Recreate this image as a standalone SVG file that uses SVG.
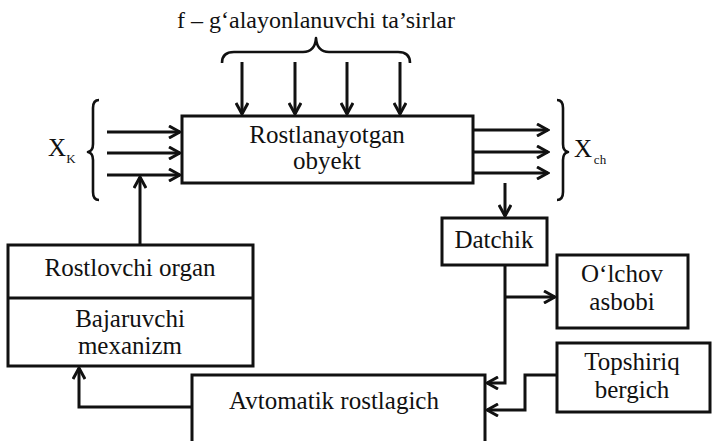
<svg xmlns="http://www.w3.org/2000/svg" width="712" height="441" viewBox="0 0 712 441">
  <style>
    .box { fill: #fff; stroke: #111; stroke-width: 3; }
    .ln { fill: none; stroke: #111; stroke-width: 3; }
    .arr { fill: none; stroke: #111; stroke-width: 3; marker-end: url(#head); }
    .brace { fill: none; stroke: #111; stroke-width: 2.6; stroke-linejoin: round; }
    .t { font-size: 25px; fill: #111; text-anchor: middle; }
    .title { font-size: 24px; }
    .sub { font-size: 13px; }
  </style>
  <defs>
    <marker id="head" viewBox="-12 -7 14 14" markerWidth="14" markerHeight="14" refX="0" refY="0" orient="auto" markerUnits="userSpaceOnUse">
      <path d="M-11,-6 L0,0 L-11,6" fill="none" stroke="#111" stroke-width="3" stroke-linejoin="miter"/>
    </marker>
  </defs>

  <g font-family="Liberation Serif, DejaVu Serif, serif">
  <!-- disturbance label and brace -->
  <g id="disturbances">
    <text class="t title" x="316" y="28">f – g‘alayonlanuvchi ta’sirlar</text>
    <path class="brace" d="M222,63 Q222,52 234,52 L303,52 Q315,52 316,38 Q317,52 329,52 L398,52 Q410,52 410,63"/>
  </g>

  <!-- controlled object -->
  <g id="object">
    <rect class="box" x="182" y="116" width="291" height="67"/>
    <text class="t" x="327" y="143">Rostlanayotgan</text>
    <text class="t" x="327" y="169">obyekt</text>
  </g>

  <!-- input group X_K -->
  <g id="input-xk">
    <text class="t" x="57" y="156">X</text>
    <text class="t sub" x="71" y="163">K</text>
    <path class="brace" d="M99,100 Q93,100 93,108 L93,144 Q93,151 88,152 Q93,153 93,160 L93,192 Q93,200 99,200"/>
  </g>

  <!-- output group X_ch -->
  <g id="output-xch">
    <path class="brace" d="M557,100 Q563,100 563,108 L563,144 Q563,151 568,152 Q563,153 563,160 L563,192 Q563,200 557,200"/>
    <text class="t" x="583" y="157">X</text>
    <text class="t sub" x="600" y="164">ch</text>
  </g>

  <!-- regulating organ / actuator -->
  <g id="regulating-organ">
    <rect class="box" x="8" y="245" width="245" height="121"/>
    <line class="ln" x1="8" y1="298" x2="253" y2="298"/>
    <text class="t" x="130" y="276">Rostlovchi organ</text>
    <text class="t" x="130" y="327">Bajaruvchi</text>
    <text class="t" x="130" y="354">mexanizm</text>
  </g>

  <!-- sensor -->
  <g id="sensor">
    <rect class="box" x="442" y="218" width="105" height="47"/>
    <text class="t" x="494" y="248">Datchik</text>
  </g>

  <!-- measuring instrument -->
  <g id="meter">
    <rect class="box" x="557" y="255" width="131" height="73"/>
    <text class="t" x="622" y="282">O‘lchov</text>
    <text class="t" x="622" y="310">asbobi</text>
  </g>

  <!-- setpoint source -->
  <g id="setpoint">
    <rect class="box" x="557" y="343" width="153" height="69"/>
    <text class="t" x="632" y="370">Topshiriq</text>
    <text class="t" x="632" y="398">bergich</text>
  </g>

  <!-- automatic controller -->
  <g id="controller">
    <rect class="box" x="192" y="375" width="293" height="80"/>
    <text class="t" x="334" y="409">Avtomatik rostlagich</text>
  </g>
  </g>

  <!-- connectors -->
  <g id="connectors">
    <!-- disturbances into object -->
    <line class="arr" x1="242" y1="62" x2="242" y2="114"/>
    <line class="arr" x1="295" y1="62" x2="295" y2="114"/>
    <line class="arr" x1="347" y1="62" x2="347" y2="114"/>
    <line class="arr" x1="400" y1="62" x2="400" y2="114"/>
    <!-- inputs -->
    <line class="arr" x1="107" y1="132" x2="180" y2="132"/>
    <line class="arr" x1="107" y1="153" x2="180" y2="153"/>
    <line class="arr" x1="107" y1="175" x2="180" y2="175"/>
    <!-- organ acts on input -->
    <line class="arr" x1="140" y1="245" x2="140" y2="177"/>
    <!-- outputs -->
    <line class="arr" x1="473" y1="130" x2="548" y2="130"/>
    <line class="arr" x1="473" y1="152" x2="548" y2="152"/>
    <line class="arr" x1="473" y1="173" x2="548" y2="173"/>
    <!-- object to sensor -->
    <line class="arr" x1="505" y1="183" x2="505" y2="216"/>
    <!-- sensor to meter and controller -->
    <polyline class="arr" points="505,265 505,383 487,383"/>
    <line class="arr" x1="505" y1="297" x2="555" y2="297"/>
    <!-- setpoint to controller -->
    <polyline class="arr" points="557,375 525,375 525,410 487,410"/>
    <!-- controller to actuator -->
    <polyline class="arr" points="192,407 79,407 79,368"/>
  </g>
</svg>
